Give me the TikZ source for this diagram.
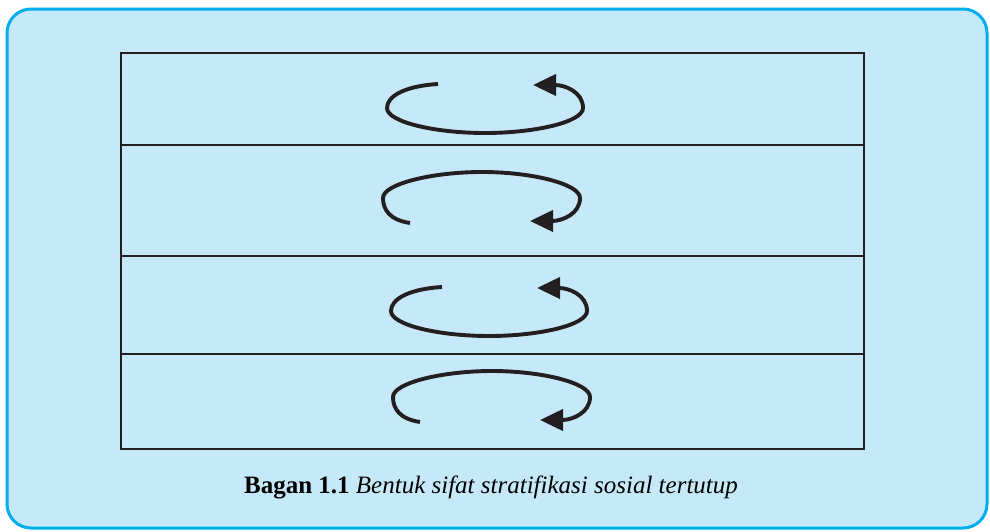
\documentclass[tikz,border=0pt]{standalone}
\usepackage{fontspec}
\setmainfont{Liberation Serif}
\usetikzlibrary{positioning,arrows.meta}
\definecolor{panelfill}{RGB}{198,233,249}
\definecolor{panelline}{RGB}{0,174,239}
\definecolor{ink}{RGB}{35,31,32}

\begin{document}
\begin{tikzpicture}[x=1pt,y=-1pt,>={Triangle[length=23pt,width=21pt]},
    strip/.style={rectangle,draw=ink,line width=1.8pt,minimum width=743pt,outer sep=0pt,inner sep=0pt,anchor=north west},
    turn/.style={->,draw=ink,line width=3.9pt}]

            \useasboundingbox (0,0) rectangle (990,531);
            \draw[fill=panelfill,draw=panelline,line width=3pt,rounded corners=24pt] (7,9) rectangle (987,528);

            % the four layers
            \node[strip,minimum height=92pt] (s1) at (121,53) {};
            \node[strip,minimum height=111pt] (s2) [below=0pt of s1.south west,anchor=north west] {};
            \node[strip,minimum height=98pt] (s3) [below=0pt of s2.south west,anchor=north west] {};
            \node[strip,minimum height=95pt] (s4) [below=0pt of s3.south west,anchor=north west] {};

            \coordinate (c1) at (485,108);
            \coordinate (c2) at (482,198);
            \coordinate (c3) at (489,311);
            \coordinate (c4) at (492,397);

            % loops open at the top
            \foreach \c in {c1,c3}
                \draw[turn,shift={(\c)}] (-47,-24) .. controls (-80,-22) and (-98,-12) .. (-98,0)
                    .. controls (-98,14) and (-50,25) .. (0,25) .. controls (50,25) and (98,14) .. (98,0)
                    .. controls (98,-16) and (80,-23) .. (48,-23);
            % loops open at the bottom
            \foreach \c in {c2,c4}
                \draw[turn,shift={(\c)}] (-72,25) .. controls (-92,22) and (-99,12) .. (-99,0)
                    .. controls (-99,-14) and (-50,-26) .. (0,-26) .. controls (50,-26) and (98,-14) .. (98,0)
                    .. controls (98,16) and (80,23) .. (48,23);

            \node[anchor=base,font=\fontsize{25}{30}\selectfont] (caption) at (491,493)
                {\textbf{Bagan 1.1} \textit{Bentuk sifat stratifikasi sosial tertutup}};
\end{tikzpicture}
\end{document}
